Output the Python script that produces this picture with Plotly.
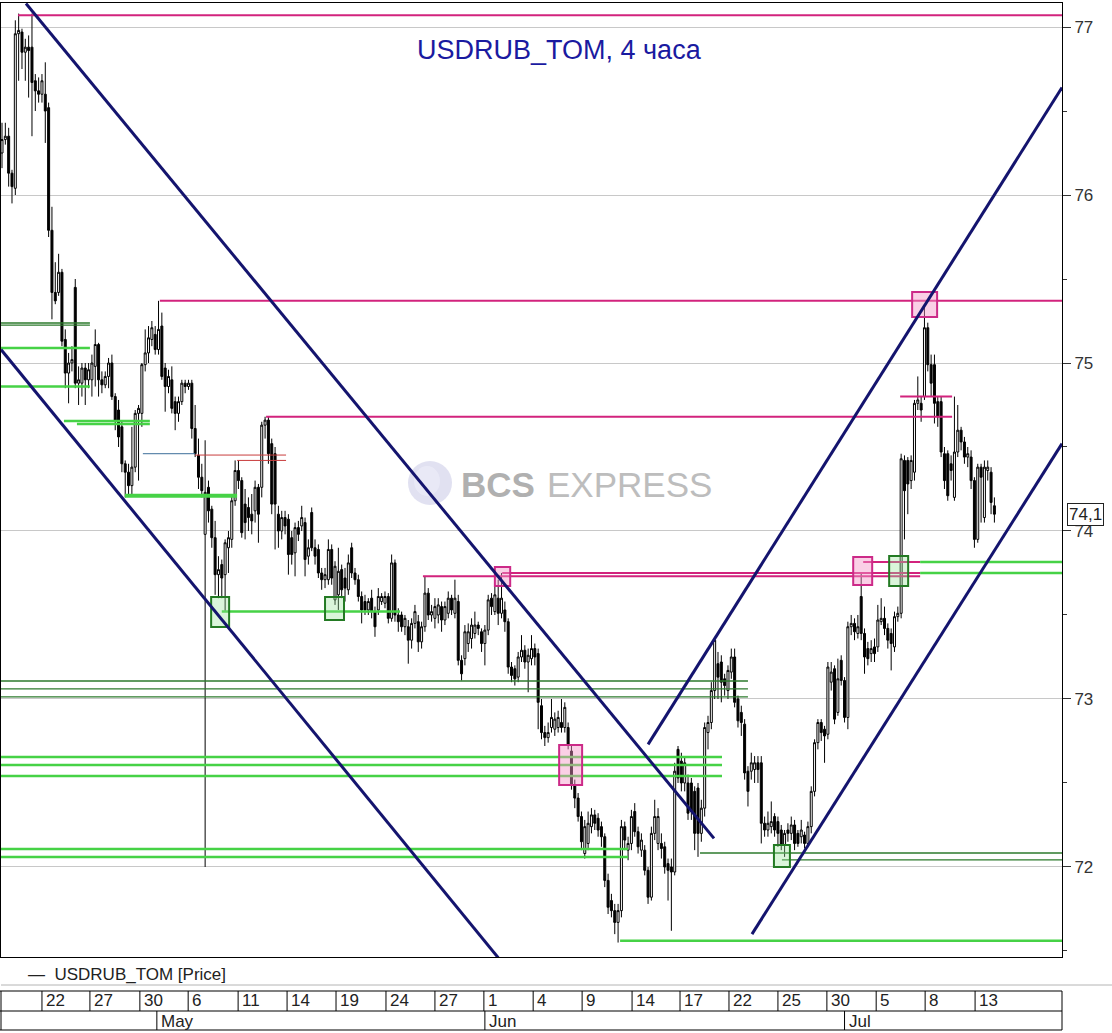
import plotly.graph_objects as go

# ---------------- data ----------------
opens = [
 76.25,76.33,76.35,76.13,76.04,76.96,76.97,76.85,76.88,76.88,
 76.68,76.62,76.60,76.60,76.52,75.79,75.42,75.42,75.54,75.14,
 74.94,75.00,75.45,74.88,74.88,74.97,74.90,74.90,74.98,75.11,
 74.90,74.87,74.92,75.00,74.80,74.72,74.62,74.40,74.35,74.27,
 74.38,74.70,74.70,74.99,75.06,75.14,75.17,75.08,75.22,74.97,
 74.86,74.90,74.77,74.70,74.77,74.88,74.86,74.88,74.61,74.45,
 74.32,73.98,74.26,74.13,73.96,73.74,73.80,73.74,73.90,73.95,
 74.18,74.36,74.30,74.16,74.14,74.10,74.12,74.26,74.26,74.63,
 74.66,74.52,74.46,74.10,74.00,74.08,74.07,73.96,73.87,74.02,
 74.03,74.05,73.85,74.11,73.90,73.89,73.75,73.71,73.71,73.89,
 73.59,73.62,73.77,73.72,73.65,73.90,73.75,73.71,73.61,73.58,
 73.53,73.60,73.52,73.53,73.58,73.57,73.61,73.48,73.81,73.50,
 73.50,73.43,73.43,73.35,73.45,73.46,73.34,73.43,73.63,73.50,
 73.48,73.50,73.55,73.47,73.51,73.60,73.51,73.58,73.23,73.24,
 73.33,73.36,73.39,73.44,73.40,73.33,73.41,73.60,73.52,73.60,
 73.51,73.53,73.46,73.19,73.18,73.13,73.25,73.29,73.22,73.24,
 73.30,73.27,72.96,72.80,72.77,72.83,72.82,72.83,72.86,72.83,
 72.83,72.69,72.49,72.41,72.30,72.08,72.14,72.24,72.31,72.29,
 72.24,72.18,71.92,71.80,71.74,71.67,71.74,72.24,72.10,72.14,
 72.33,72.21,72.10,72.10,71.98,71.82,72.20,72.14,72.14,72.12,
 72.02,72.00,71.97,72.70,72.63,72.50,72.50,72.50,72.45,72.47,
 72.20,72.35,72.80,72.86,73.05,73.21,73.22,73.12,73.05,73.16,
 73.25,73.00,72.92,72.85,72.57,72.57,72.58,72.62,72.62,72.26,
 72.22,72.24,72.30,72.27,72.22,72.13,72.22,72.20,72.25,72.20,
 72.18,72.19,72.14,72.24,72.45,72.74,72.86,72.82,72.79,73.10,
 73.18,72.92,73.23,73.11,72.89,73.43,73.45,73.39,73.61,73.39,
 73.30,73.27,73.31,73.31,73.46,73.48,73.42,73.39,73.31,73.49,
 73.51,74.42,74.42,74.30,74.35,74.76,74.76,74.80,75.21,74.99,
 74.99,74.77,74.77,74.46,74.46,74.40,74.20,74.47,74.60,74.53,
 74.44,74.44,74.30,73.95,74.38,74.08,74.36,74.35,74.15,
]
highs = [
 76.43,76.43,76.40,76.15,77.04,77.08,76.99,76.93,76.95,77.08,
 76.72,76.70,76.72,76.79,76.55,75.93,75.60,75.65,75.56,75.20,
 75.06,75.10,75.50,74.98,75.00,75.00,75.00,75.05,75.20,75.12,
 74.95,74.95,75.03,75.05,74.82,74.78,74.65,74.42,74.40,74.62,
 74.72,74.75,75.00,75.20,75.22,75.25,75.22,75.37,75.30,75.00,
 74.96,74.98,74.80,74.80,74.90,74.90,74.90,74.90,74.75,74.55,
 74.40,74.54,74.30,74.15,74.06,73.85,73.83,73.95,74.00,74.22,
 74.42,74.42,74.32,74.25,74.20,74.22,74.30,74.28,74.65,74.68,
 74.68,74.55,74.50,74.15,74.12,74.12,74.10,74.00,74.05,74.06,
 74.15,74.08,73.95,74.14,73.95,73.92,73.78,73.78,73.95,73.92,
 73.82,73.90,73.80,73.78,73.86,73.93,73.78,73.74,73.64,73.62,
 73.60,73.65,73.55,73.66,73.63,73.64,73.63,73.86,73.83,73.54,
 73.52,73.50,73.47,73.48,73.56,73.50,73.46,73.73,73.66,73.56,
 73.60,73.60,73.58,73.58,73.64,73.62,73.71,73.62,73.26,73.44,
 73.45,73.48,73.52,73.46,73.42,73.44,73.62,73.63,73.68,73.71,
 73.75,73.58,73.48,73.22,73.20,73.28,73.38,73.32,73.30,73.38,
 73.33,73.30,73.00,72.84,72.86,73.00,72.92,72.93,73.00,72.98,
 72.86,72.72,72.52,72.44,72.33,72.28,72.33,72.35,72.34,72.32,
 72.27,72.20,71.96,71.84,71.78,71.78,72.28,72.27,72.18,72.34,
 72.38,72.24,72.20,72.13,72.00,72.24,72.40,72.35,72.20,72.15,
 72.05,72.05,72.62,72.72,72.68,72.66,72.55,72.53,72.48,72.50,
 72.40,72.86,72.90,73.10,73.36,73.28,73.26,73.15,73.20,73.30,
 73.30,73.02,72.96,72.88,72.60,72.68,72.66,72.66,72.66,72.30,
 72.33,72.39,72.32,72.30,72.25,72.22,72.26,72.30,72.28,72.22,
 72.28,72.21,72.27,72.48,72.76,72.88,72.88,72.84,73.22,73.22,
 73.20,73.24,73.26,73.13,73.46,73.50,73.48,73.50,73.75,73.42,
 73.34,73.35,73.36,73.56,73.60,73.55,73.45,73.42,73.52,73.55,
 74.46,74.45,74.44,74.45,74.78,74.92,74.80,75.35,75.24,75.05,
 75.05,74.80,74.80,74.50,74.48,74.45,74.80,74.75,74.62,74.56,
 74.50,74.48,74.32,74.40,74.40,74.42,74.42,74.38,74.20,
]
lows = [
 76.16,76.30,76.05,75.95,76.00,76.68,76.75,76.68,76.58,76.35,
 76.50,76.55,76.55,76.31,75.75,75.26,75.35,75.40,75.10,74.85,
 74.76,74.95,74.85,74.75,74.80,74.75,74.85,74.80,74.86,74.80,
 74.82,74.85,74.85,74.78,74.60,74.50,74.35,74.20,74.22,74.22,
 74.35,74.30,74.62,74.95,75.00,75.10,75.05,75.05,74.90,74.71,
 74.82,74.70,74.60,74.65,74.75,74.82,74.84,74.55,74.44,74.25,
 74.20,72.00,74.05,73.90,73.62,73.60,73.60,73.52,73.75,73.90,
 74.15,74.25,73.96,73.95,74.00,73.98,74.05,73.93,74.20,74.55,
 74.40,74.10,73.89,73.90,73.95,73.98,73.74,73.80,73.73,73.94,
 74.00,73.73,73.80,73.88,73.80,73.72,73.65,73.66,73.68,73.68,
 73.56,73.53,73.60,73.58,73.62,73.72,73.68,73.58,73.45,73.50,
 73.50,73.48,73.37,73.50,73.56,73.54,73.45,73.46,73.46,73.40,
 73.40,73.38,73.21,73.30,73.42,73.28,73.30,73.40,73.47,73.46,
 73.42,73.45,73.40,73.44,73.48,73.50,73.48,73.20,73.11,73.20,
 73.28,73.30,73.36,73.38,73.28,73.20,73.38,73.50,73.50,73.44,
 73.48,73.40,73.15,73.10,73.08,73.10,73.22,73.18,73.04,73.20,
 73.20,72.82,72.76,72.72,72.74,72.80,72.78,72.80,72.80,72.80,
 72.70,72.46,72.35,72.27,72.10,72.05,72.10,72.20,72.22,72.18,
 72.12,71.88,71.72,71.70,71.60,71.55,71.70,72.10,72.04,72.10,
 72.18,72.08,72.06,71.95,71.78,71.80,72.16,72.10,72.05,71.96,
 71.80,71.62,71.95,72.50,72.45,72.45,72.28,72.28,72.10,72.06,
 72.15,72.30,72.70,72.82,73.00,73.00,72.98,73.02,73.00,73.12,
 72.95,72.83,72.78,72.52,72.36,72.52,72.50,72.50,72.14,72.18,
 72.18,72.20,72.18,72.12,72.10,72.06,72.15,72.16,72.10,72.12,
 72.14,72.11,72.12,72.20,72.42,72.70,72.75,72.62,72.76,73.05,
 72.85,72.90,73.08,72.86,72.82,73.38,73.35,73.36,73.35,73.15,
 73.20,73.22,73.22,73.28,73.44,73.38,73.30,73.17,73.28,73.46,
 73.48,73.95,74.10,74.25,74.30,74.72,74.65,74.78,74.95,74.80,
 74.64,74.62,74.44,74.25,74.18,74.30,74.18,74.44,74.48,74.40,
 74.38,74.25,73.90,73.93,74.05,74.05,74.30,74.10,74.05,
]
closes = [
 76.33,76.35,76.13,76.05,76.96,76.98,76.85,76.88,76.86,76.67,
 76.62,76.60,76.68,76.50,75.79,75.42,75.37,75.54,75.13,74.94,
 75.00,75.02,74.88,74.90,74.97,74.90,74.96,75.00,75.11,74.90,
 74.87,74.92,75.00,74.80,74.66,74.56,74.40,74.35,74.27,74.38,
 74.70,74.73,74.99,75.06,75.15,75.21,75.08,75.20,74.92,74.86,
 74.92,74.73,74.70,74.77,74.88,74.86,74.88,74.61,74.46,74.32,
 74.24,74.23,74.12,73.96,73.74,73.77,73.72,73.93,73.96,74.18,
 74.36,74.30,73.99,74.05,74.08,74.06,74.26,74.10,74.63,74.66,
 74.46,74.16,74.16,74.00,74.08,74.03,73.86,73.86,74.02,73.98,
 74.08,73.83,73.90,73.90,73.85,73.75,73.71,73.74,73.89,73.72,
 73.79,73.76,73.65,73.66,73.81,73.75,73.71,73.61,73.53,73.53,
 73.58,73.52,73.43,73.61,73.61,73.61,73.48,73.81,73.50,73.46,
 73.43,73.48,73.35,73.45,73.52,73.34,73.43,73.63,73.50,73.52,
 73.55,73.56,73.47,73.55,73.60,73.53,73.60,73.23,73.15,73.40,
 73.40,73.44,73.44,73.42,73.33,73.41,73.59,73.55,73.62,73.51,
 73.60,73.46,73.19,73.14,73.12,73.25,73.29,73.22,73.26,73.30,
 73.25,72.98,72.80,72.77,72.80,72.89,72.88,72.89,72.83,72.95,
 72.73,72.49,72.41,72.30,72.15,72.24,72.26,72.31,72.26,72.22,
 72.18,71.92,71.76,71.74,71.67,71.74,72.24,72.16,72.14,72.30,
 72.21,72.12,72.16,71.98,71.82,72.20,72.30,72.30,72.11,72.00,
 71.98,71.97,72.57,72.53,72.50,72.62,72.32,72.33,72.20,72.20,
 72.35,72.83,72.86,73.05,73.35,73.13,73.10,73.08,73.17,73.25,
 72.98,72.87,72.86,72.56,72.45,72.62,72.62,72.58,72.26,72.22,
 72.26,72.27,72.22,72.20,72.13,72.20,72.20,72.25,72.14,72.14,
 72.22,72.14,72.24,72.45,72.74,72.86,72.80,72.78,73.19,73.16,
 72.88,73.12,73.11,72.89,73.43,73.45,73.40,73.43,73.39,73.25,
 73.24,73.30,73.27,73.47,73.48,73.42,73.35,73.33,73.49,73.51,
 74.43,74.24,74.28,74.42,74.76,74.78,74.72,75.21,74.99,74.88,
 74.76,74.68,74.47,74.30,74.21,74.36,74.47,74.60,74.53,74.44,
 74.46,74.30,73.95,74.38,74.32,74.38,74.38,74.17,74.10,
]
bars = list(range(len(closes)))

title_text = "USDRUB_TOM, 4 часа"
series_name = "USDRUB_TOM [Price]"
last_price_text = "74,1"
price_ticks = [72, 73, 74, 75, 76, 77]

day_labels = ["22", "27", "30", "6", "11", "14", "19", "24", "27", "1",
              "4", "9", "14", "17", "22", "25", "30", "5", "8", "13"]
day_bars = [12.0, 26.4, 41.4, 55.9, 70.9, 85.6, 100.3, 115.3, 130.0, 144.7,
            159.5, 174.2, 189.2, 203.6, 218.3, 233.0, 247.7, 262.5, 277.2, 292.2]
month_labels = ["May", "Jun", "Jul"]
month_bars = [46.5, 145.0, 253.0]

# trend lines (bar index, price)
trend_b0 = [7.2, -0.3, 194.0, 225.2]
trend_p0 = [77.14, 75.08, 72.73, 71.60]
trend_b1 = [213.8, 149.0, 318.3, 318.3]
trend_p1 = [72.17, 71.46, 76.64, 74.52]

# horizontal levels
pink_levels = [77.07, 75.37, 74.68, 74.80, 73.73, 73.75, 73.815]
pink_start = [4.8, 47.4, 79.3, 269.7, 126.4, 150.2, 258.6]
pink_end = [318.3, 318.3, 285.3, 285.3, 275.7, 275.7, 275.7]

green_levels = [75.09, 74.86, 74.655, 74.637, 73.52, 72.655, 72.607, 72.542,
                72.107, 72.06, 71.56, 73.815, 73.75]
green_start = [-0.3, -0.3, 18.6, 22.5, 66.0, -0.3, -0.3, -0.3, -0.3, -0.3,
               185.6, 275.7, 275.7]
green_end = [26.4, 26.4, 44.4, 44.4, 119.5, 216.2, 216.2, 216.2, 188.0, 188.0,
             318.3, 318.3, 318.3]
green_thick_levels = [74.21]
green_thick_start = [36.9]
green_thick_end = [70.6]

dkgreen_levels = [75.238, 75.226, 73.107, 73.06, 73.012, 72.083, 72.042]
dkgreen_start = [-0.3, -0.3, -0.3, -0.3, -0.3, 209.6, 234.2]
dkgreen_end = [26.4, 26.4, 224.0, 224.0, 224.0, 318.3, 318.3]

red_levels = [74.452, 74.42]
red_start = [58.0, 70.6]
red_end = [85.3, 85.3]
blue_levels = [74.46]
blue_start = [42.3]
blue_end = [58.0]

pink_box_b0 = [273.3, 255.6, 148.0, 167.3]
pink_box_b1 = [280.8, 261.3, 152.6, 174.2]
pink_box_p0 = [75.274, 73.679, 73.673, 72.488]
pink_box_p1 = [75.423, 73.845, 73.786, 72.726]

green_box_b0 = [62.8, 97.0, 231.8, 266.4]
green_box_b1 = [68.2, 102.7, 236.6, 272.1]
green_box_p0 = [73.429, 73.470, 72.000, 73.673]
green_box_p1 = [73.607, 73.607, 72.131, 73.851]

# ---------------- layout constants ----------------
W, H = 1112, 1033
ML, MR, MT, MB = 1, 50, 3, 76
X0, X1 = -0.3, 318.3
Y0, Y1 = 71.464, 77.143
PH = H - MT - MB
PW = W - ML - MR


def py(p):  # pixel row -> paper y
    return (H - MB - p) / PH


def px(p):  # pixel column -> paper x
    return (p - ML) / PW


def bx(b):  # bar index -> paper x
    return (b - X0) / (X1 - X0)


fig = go.Figure()
fig.add_trace(go.Candlestick(
    x=bars, open=opens, high=highs, low=lows, close=closes,
    increasing=dict(line=dict(color="black", width=1), fillcolor="white"),
    decreasing=dict(line=dict(color="black", width=1), fillcolor="black"),
    whiskerwidth=0, showlegend=False, hoverinfo="skip", name=series_name,
))

shapes = []
NAVY = "#14146e"
PINK = "#d2237d"
GREEN = "#46d246"
DKGREEN = "#2d7a2d"

for lv, s, e in zip(pink_levels, pink_start, pink_end):
    shapes.append(dict(type="line", xref="x", yref="y", x0=s, x1=e, y0=lv, y1=lv,
                       line=dict(color=PINK, width=2)))
for lv, s, e in zip(green_levels, green_start, green_end):
    shapes.append(dict(type="line", xref="x", yref="y", x0=s, x1=e, y0=lv, y1=lv,
                       line=dict(color=GREEN, width=2.5)))
for lv, s, e in zip(green_thick_levels, green_thick_start, green_thick_end):
    shapes.append(dict(type="line", xref="x", yref="y", x0=s, x1=e, y0=lv, y1=lv,
                       line=dict(color=GREEN, width=4)))
for lv, s, e in zip(dkgreen_levels, dkgreen_start, dkgreen_end):
    shapes.append(dict(type="line", xref="x", yref="y", x0=s, x1=e, y0=lv, y1=lv,
                       line=dict(color=DKGREEN, width=1.3)))
for lv, s, e in zip(red_levels, red_start, red_end):
    shapes.append(dict(type="line", xref="x", yref="y", x0=s, x1=e, y0=lv, y1=lv,
                       line=dict(color="#c83c3c", width=1)))
for lv, s, e in zip(blue_levels, blue_start, blue_end):
    shapes.append(dict(type="line", xref="x", yref="y", x0=s, x1=e, y0=lv, y1=lv,
                       line=dict(color="#3c6e9a", width=1)))

for b0, b1, p0, p1 in zip(pink_box_b0, pink_box_b1, pink_box_p0, pink_box_p1):
    shapes.append(dict(type="rect", xref="x", yref="y", x0=b0, x1=b1, y0=p0, y1=p1,
                       fillcolor="rgba(245,150,200,0.45)",
                       line=dict(color="#cc2a88", width=2)))
for b0, b1, p0, p1 in zip(green_box_b0, green_box_b1, green_box_p0, green_box_p1):
    shapes.append(dict(type="rect", xref="x", yref="y", x0=b0, x1=b1, y0=p0, y1=p1,
                       fillcolor="rgba(150,225,150,0.35)",
                       line=dict(color="#237a23", width=2)))

for b0, p0, b1, p1 in zip(trend_b0, trend_p0, trend_b1, trend_p1):
    shapes.append(dict(type="line", xref="x", yref="y", x0=b0, x1=b1, y0=p0, y1=p1,
                       line=dict(color=NAVY, width=3)))

# watermark logo circle
shapes.append(dict(type="circle", xref="paper", yref="paper",
                   x0=px(408), x1=px(452), y0=py(505), y1=py(461),
                   fillcolor="rgba(200,200,230,0.55)", line=dict(width=0), layer="below"))
shapes.append(dict(type="circle", xref="paper", yref="paper",
                   x0=px(414), x1=px(440), y0=py(496), y1=py(466),
                   fillcolor="rgba(235,235,248,0.8)", line=dict(width=0), layer="below"))

# bottom panel: legend separator and date box
shapes.append(dict(type="line", xref="paper", yref="paper", x0=0, x1=W / PW,
                   y0=py(985), y1=py(985), line=dict(color="#b4b4b4", width=1)))
for yy in (991, 1011, 1030):
    shapes.append(dict(type="line", xref="paper", yref="paper", x0=px(0), x1=1,
                       y0=py(yy), y1=py(yy), line=dict(color="black", width=1.2)))
shapes.append(dict(type="line", xref="paper", yref="paper", x0=1, x1=1,
                   y0=py(991), y1=py(1030), line=dict(color="black", width=1)))
shapes.append(dict(type="line", xref="paper", yref="paper", x0=px(1), x1=px(1),
                   y0=py(991), y1=py(1030), line=dict(color="black", width=1)))
for b in day_bars:
    shapes.append(dict(type="line", xref="paper", yref="paper", x0=bx(b), x1=bx(b),
                       y0=py(991), y1=py(1011), line=dict(color="black", width=1)))
for b in month_bars:
    shapes.append(dict(type="line", xref="paper", yref="paper", x0=bx(b), x1=bx(b),
                       y0=py(1011), y1=py(1030), line=dict(color="black", width=1)))

NARROW = "Liberation Sans Narrow, Arial Narrow, Liberation Sans, Arial, sans-serif"
annotations = []
for lab, b in zip(day_labels, day_bars):
    annotations.append(dict(xref="paper", yref="paper", x=bx(b) + 2 / PW, y=py(1001),
                            text=lab, showarrow=False, xanchor="left", yanchor="middle",
                            font=dict(family=NARROW, size=17, color="#222")))
for lab, b in zip(month_labels, month_bars):
    annotations.append(dict(xref="paper", yref="paper", x=bx(b) + 2 / PW, y=py(1021),
                            text=lab, showarrow=False, xanchor="left", yanchor="middle",
                            font=dict(family=NARROW, size=17, color="#222")))

annotations.append(dict(xref="paper", yref="paper", x=px(26), y=py(974),
                        text="—  " + series_name, showarrow=False,
                        xanchor="left", yanchor="middle",
                        font=dict(family=NARROW, size=17, color="#222")))

annotations.append(dict(xref="paper", yref="paper", x=px(559), y=py(50),
                        text=title_text, showarrow=False, xanchor="center",
                        yanchor="middle",
                        font=dict(family="Liberation Sans, Arial, sans-serif",
                                  size=27, color="#1a1aa0")))

annotations.append(dict(xref="paper", yref="paper", x=px(459), y=py(484),
                        text="<b>BCS</b>", showarrow=False, xanchor="left",
                        yanchor="middle",
                        font=dict(family="Liberation Sans, Arial, sans-serif", size=35,
                                  color="#b0b0b0")))
annotations.append(dict(xref="paper", yref="paper", x=px(545), y=py(484),
                        text="EXPRESS", showarrow=False, xanchor="left",
                        yanchor="middle",
                        font=dict(family="Liberation Sans, Arial, sans-serif", size=35,
                                  color="#bdbdbd")))

annotations.append(dict(xref="paper", yref="y", x=px(1067), y=closes[-1],
                        text=last_price_text, showarrow=False, xanchor="left",
                        yanchor="middle", bgcolor="white", bordercolor="#222",
                        borderwidth=1, borderpad=1,
                        font=dict(family="Liberation Sans, Arial, sans-serif",
                                  size=17, color="#222")))

fig.update_layout(
    width=W, height=H, autosize=False,
    margin=dict(l=ML, r=MR, t=MT, b=MB, pad=0),
    paper_bgcolor="white", plot_bgcolor="white",
    shapes=shapes, annotations=annotations, showlegend=False,
    boxgap=0.15,
    xaxis=dict(range=[X0, X1], showticklabels=False, showgrid=False,
               zeroline=False, showline=True, mirror=True, linecolor="black",
               linewidth=1, ticks="", rangeslider=dict(visible=False),
               fixedrange=True),
    yaxis=dict(range=[Y0, Y1], side="right", tickvals=price_ticks,
               ticks="outside", ticklen=8, tickcolor="#333", showgrid=True,
               gridcolor="#c8c8c8", gridwidth=1, zeroline=False,
               showline=True, mirror=True, linecolor="black", linewidth=1,
               tickfont=dict(family="Liberation Sans, Arial, sans-serif",
                             size=17, color="#333"),
               minor=dict(dtick=0.5, tick0=0, ticks="outside", ticklen=4,
                          tickcolor="#333", showgrid=False),
               fixedrange=True),
)

fig.write_html("out.html", config={"displayModeBar": False},
               post_script="document.body.style.margin='0';document.body.style.overflow='hidden';")
